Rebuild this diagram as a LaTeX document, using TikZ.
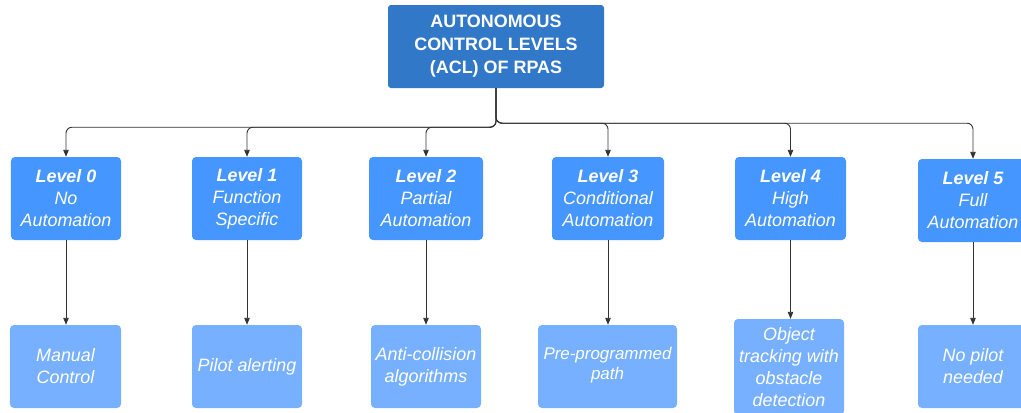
\documentclass[tikz,border=0pt]{standalone}
\usepackage{fontspec}
\setmainfont{Liberation Sans}
\usepackage{tikz}
\usetikzlibrary{arrows.meta}
\tikzset{>={Triangle[length=7bp,width=5.5bp]}}
\definecolor{aclblue}{HTML}{3278C9}
\definecolor{levelblue}{HTML}{4596FF}
\definecolor{exblue}{HTML}{77B0FF}
\definecolor{wiregray}{HTML}{333333}
\tikzset{aclbox/.style = {fill=aclblue, rounded corners=3bp, text=white, align=center, inner sep=0pt,
      minimum width=216bp, minimum height=83bp, font=\bfseries\fontsize{18}{23}\selectfont}}
\tikzset{levelbox/.style = {fill=levelblue, rounded corners=4bp, text=white, align=center, inner sep=0pt,
      minimum width=110bp, minimum height=83bp, font=\itshape\fontsize{18}{22}\selectfont}}
\tikzset{exbox/.style = {fill=exblue, rounded corners=4bp, text=white, align=center, inner sep=0pt,
      minimum width=110bp, minimum height=83bp, font=\itshape\fontsize{18}{22}\selectfont}}
\tikzset{link/.style = {->, draw=wiregray, line width=0.9bp, rounded corners=6bp}}

\begin{document}
\begin{tikzpicture}[x=1bp, y=-1bp]
		% Frame
		\useasboundingbox (0,0) rectangle (1021,412);

		% Title
		\node[aclbox] (acl) at (496,46.5) {AUTONOMOUS\\CONTROL LEVELS\\(ACL) OF RPAS};

		% Levels
		\node[levelbox] (lvl0) at (66,198.5) {\textbf{Level 0}\\No\\Automation};
		\node[levelbox] (lvl1) at (247,198.5) {\textbf{Level 1}\\Function\\Specific};
		\node[levelbox, minimum width=114bp] (lvl2) at (426,198.5) {\textbf{Level 2}\\Partial\\Automation};
		\node[levelbox, minimum width=112bp] (lvl3) at (608,198.5) {\textbf{Level 3}\\Conditional\\Automation};
		\node[levelbox, minimum width=111bp] (lvl4) at (790.5,198.5) {\textbf{Level 4}\\High\\Automation};
		\node[levelbox] (lvl5) at (973,200.5) {\textbf{Level 5}\\Full\\Automation};

		% Examples
		\node[exbox, minimum width=111bp] (ex0) at (65.5,366.5) {Manual\\Control};
		\node[exbox] (ex1) at (247,366.5) {Pilot alerting};
		\node[exbox] (ex2) at (426,366.5) {Anti-collision\\algorithms};
		\node[exbox, minimum width=139bp, font=\itshape\fontsize{17}{20}\selectfont] (ex3) at (607.5,366.5) {Pre-programmed\\path\\[-14bp]};
		\node[exbox, minimum height=96bp] (ex4) at (789,367) {Object\\tracking with\\obstacle\\detection};
		\node[exbox] (ex5) at (973,366.5) {No pilot\\needed};

		% Links from the title
		\draw[link] (acl.south) -- ++(0,39) -| (lvl0.north);
		\draw[link] (acl.south) -- ++(0,39) -| (lvl1.north);
		\draw[link] (acl.south) -- ++(0,39) -| (lvl2.north);
		\draw[link] (acl.south) -- ++(0,35) -| (lvl3.north);
		\draw[link] (acl.south) -- ++(0,35) -| (lvl4.north);
		\draw[link] (acl.south) -- ++(0,35) -| (lvl5.north);

		% Links to the examples
		\draw[link] (lvl0.south) -- (lvl0.south |- ex0.north);
		\draw[link] (lvl1.south) -- (lvl1.south |- ex1.north);
		\draw[link] (lvl2.south) -- (lvl2.south |- ex2.north);
		\draw[link] (lvl3.south) -- (lvl3.south |- ex3.north);
		\draw[link] (lvl4.south) -- (lvl4.south |- ex4.north);
		\draw[link] (lvl5.south) -- (lvl5.south |- ex5.north);
	\end{tikzpicture}
\end{document}
